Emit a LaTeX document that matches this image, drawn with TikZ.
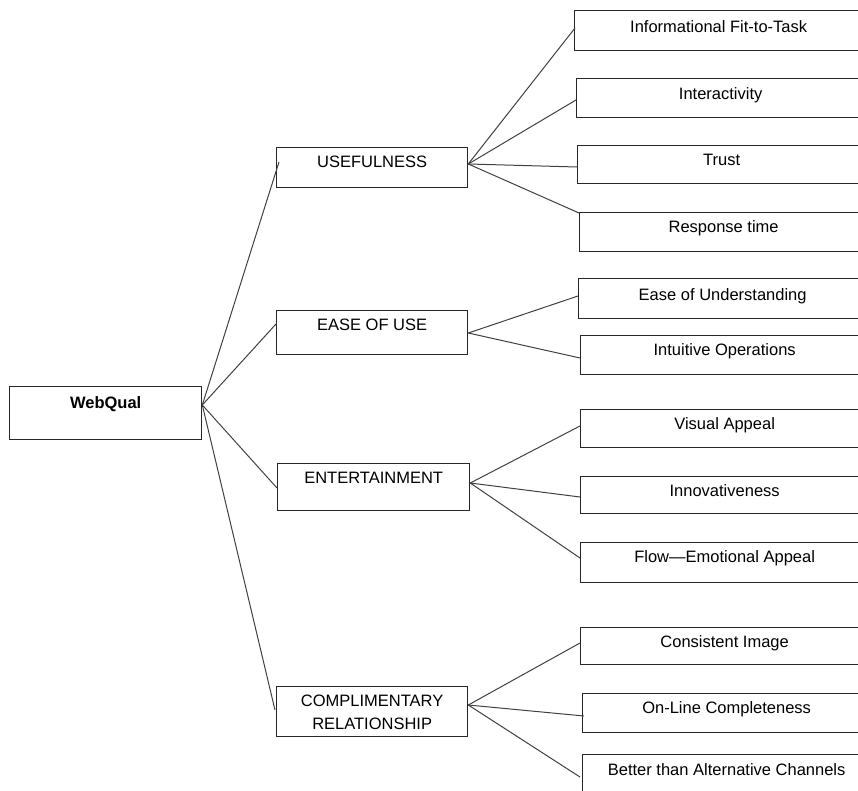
\documentclass[tikz,border=0pt]{standalone}
\usepackage{fontspec}
\setmainfont{Liberation Sans}
\begin{document}
\begin{tikzpicture}[x=1pt,y=-1pt,
  box/.style={draw=black!85, line width=1.3pt, fill=none, rectangle, inner sep=0pt, anchor=north west},
  lbl/.style={anchor=center, inner sep=0pt, text height=11.5pt, text depth=0pt, align=center,
    font=\fontsize{16.5}{23}\selectfont},
  conn/.style={draw=black!75, line width=1pt}]
\useasboundingbox (0,0) rectangle (858,791);
% root
\node[box, minimum width=192pt, minimum height=53pt] (wq) at (9,386) {};
\node[lbl, font=\fontsize{16.5}{23}\selectfont\bfseries] (wqt) at ([yshift=-17pt]wq.north) {WebQual};
% middle level
\node[box, minimum width=191pt, minimum height=40pt] (use) at (276,147) {};
\node[lbl] (uset) at ([yshift=-15pt]use.north) {USEFULNESS};
\node[box, minimum width=191pt, minimum height=44pt] (eou) at (276,310) {};
\node[lbl] (eout) at ([yshift=-15pt]eou.north) {EASE OF USE};
\node[box, minimum width=192pt, minimum height=47pt] (ent) at (277,463) {};
\node[lbl] (entt) at ([yshift=-15pt]ent.north) {ENTERTAINMENT};
\node[box, minimum width=191pt, minimum height=50pt] (comp) at (276,686) {};
\node[lbl] (compt) at ([yshift=-38pt]comp.north) {COMPLIMENTARY\\RELATIONSHIP};
% leaves
\node[box, minimum width=288pt, minimum height=40pt] (info) at (574,10) {};
\node[lbl] (infot) at ([yshift=-17pt]info.north) {Informational Fit-to-Task};
\node[box, minimum width=288pt, minimum height=39pt] (inter) at (576,78) {};
\node[lbl] (intert) at ([yshift=-16pt]inter.north) {Interactivity};
\node[box, minimum width=288pt, minimum height=38pt] (trust) at (577,145) {};
\node[lbl] (trustt) at ([yshift=-15pt]trust.north) {Trust};
\node[box, minimum width=288pt, minimum height=39pt] (resp) at (579,212) {};
\node[lbl] (respt) at ([yshift=-15pt]resp.north) {Response time};
\node[box, minimum width=288pt, minimum height=40pt] (eund) at (578,278) {};
\node[lbl] (eundt) at ([yshift=-17pt]eund.north) {Ease of Understanding};
\node[box, minimum width=288pt, minimum height=39pt] (intu) at (580,335) {};
\node[lbl] (intut) at ([yshift=-15pt]intu.north) {Intuitive Operations};
\node[box, minimum width=288pt, minimum height=38pt] (vis) at (580,409) {};
\node[lbl] (vist) at ([yshift=-15pt]vis.north) {Visual Appeal};
\node[box, minimum width=288pt, minimum height=37pt] (innov) at (580,476) {};
\node[lbl] (innovt) at ([yshift=-15pt]innov.north) {Innovativeness};
\node[box, minimum width=288pt, minimum height=40pt] (flow) at (580,542) {};
\node[lbl] (flowt) at ([yshift=-15pt]flow.north) {Flow---Emotional Appeal};
\node[box, minimum width=288pt, minimum height=37pt] (cons) at (580,627) {};
\node[lbl] (const) at ([yshift=-15pt]cons.north) {Consistent Image};
\node[box, minimum width=288pt, minimum height=39pt] (onl) at (582,693) {};
\node[lbl] (onlt) at ([yshift=-15pt]onl.north) {On-Line Completeness};
\node[box, minimum width=288pt, minimum height=42pt] (better) at (582,754) {};
\node[lbl] (bettert) at ([yshift=-16pt]better.north) {Better than Alternative Channels};
% connectors root -> middle
\draw[conn] ([yshift=-19pt]wq.north east) -- ([xshift=3pt,yshift=-15pt]use.north west);
\draw[conn] ([yshift=-19pt]wq.north east) -- ([yshift=-14pt]eou.north west);
\draw[conn] ([yshift=-19pt]wq.north east) -- ([yshift=-25pt]ent.north west);
\draw[conn] ([yshift=-19pt]wq.north east) -- ([xshift=-1pt,yshift=-24pt]comp.north west);
% usefulness
\draw[conn] ([yshift=-17pt]use.north east) -- ([xshift=1pt,yshift=-18pt]info.north west);
\draw[conn] ([yshift=-17pt]use.north east) -- ([yshift=-22pt]inter.north west);
\draw[conn] ([yshift=-17pt]use.north east) -- ([yshift=-22pt]trust.north west);
\draw[conn] ([yshift=-17pt]use.north east) -- ([yshift=-1pt]resp.north west);
% ease of use
\draw[conn] ([yshift=-23pt]eou.north east) -- ([yshift=-18pt]eund.north west);
\draw[conn] ([yshift=-23pt]eou.north east) -- ([yshift=-23pt]intu.north west);
% entertainment
\draw[conn] ([yshift=-20pt]ent.north east) -- ([yshift=-17pt]vis.north west);
\draw[conn] ([yshift=-20pt]ent.north east) -- ([yshift=-21pt]innov.north west);
\draw[conn] ([yshift=-20pt]ent.north east) -- ([yshift=-16pt]flow.north west);
% complimentary
\draw[conn] ([yshift=-19pt]comp.north east) -- ([yshift=-16pt]cons.north west);
\draw[conn] ([yshift=-19pt]comp.north east) -- ([xshift=2pt,yshift=-23pt]onl.north west);
\draw[conn] ([yshift=-19pt]comp.north east) -- ([xshift=-2pt,yshift=-23pt]better.north west);
\end{tikzpicture}
\end{document}
